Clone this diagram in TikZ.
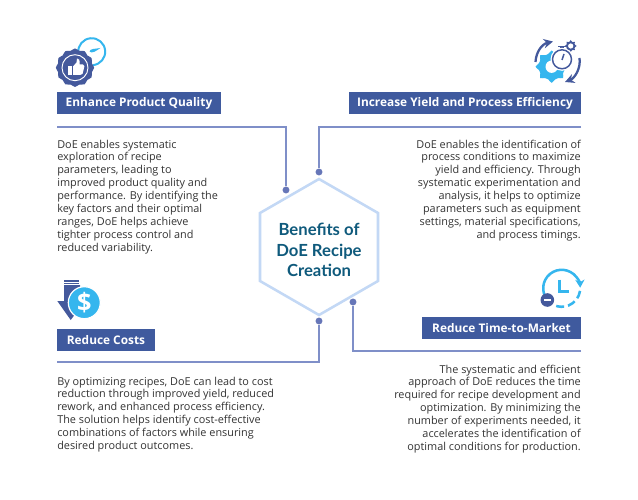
\documentclass[tikz,border=0pt]{standalone}
\usepackage{fontspec}
\setmainfont{Open Sans}
\newfontfamily\titlefont{Lato}
\usetikzlibrary{arrows.meta}
\definecolor{bar}{HTML}{3F5A9E}
\definecolor{navy}{HTML}{44599C}
\definecolor{sky}{HTML}{35B6EE}
\definecolor{wire}{HTML}{7F8FC8}
\definecolor{dotc}{HTML}{6676B8}
\definecolor{hexc}{HTML}{C3D8F5}
\definecolor{ttl}{HTML}{0F5A7C}
\definecolor{body}{HTML}{333333}
\tikzset{
  barbox/.style={fill=bar,text=white,font=\fontsize{8.9pt}{11pt}\selectfont\bfseries,inner sep=0pt,anchor=center},
  bodyl/.style={align=left,anchor=north west,text=body,inner sep=0pt,font=\fontsize{8.15pt}{9.68pt}\selectfont},
  bodyr/.style={align=right,anchor=north east,text=body,inner sep=0pt,font=\fontsize{8.15pt}{9.68pt}\selectfont},
  wireline/.style={draw=wire,line width=1.1pt},
  dotn/.style={circle,fill=dotc,minimum size=5.2pt,inner sep=0pt},
}
\begin{document}
\begin{tikzpicture}[x=0.75pt,y=-0.75pt]
\useasboundingbox (0,0) rectangle (638,499);
\fill[white] (0,0) rectangle (638,499);
% hexagon
\node[draw=none,inner sep=0pt,align=center,text=ttl,font=\titlefont\fontsize{12.5pt}{15.4pt}\selectfont\bfseries] (title) at (319,250) {Benefits of\\DoE Recipe\\Creation};
\draw[hexc,line width=1.9pt] (319,179) -- (378,213) -- (378,281) -- (319,315) -- (260,281) -- (260,213) -- cycle;
% connector ends
\node[dotn] (d1) at (286,190) {};
\node[dotn] (d2) at (319,172) {};
\node[dotn] (d3) at (353,302) {};
\node[dotn] (d4) at (319,321) {};
\coordinate (e1) at (57,127);
\coordinate (e2) at (581,127);
\coordinate (e3) at (581,351);
\coordinate (e4) at (57,362);
\draw[wireline] (e1) -| (d1);
\draw[wireline] (e2) -| (d2);
\draw[wireline] (e3) -| (d3);
\draw[wireline] (e4) -| (d4);
% bars
\node[barbox,minimum width=123pt,minimum height=16.5pt] (b1) at (139,103) {Enhance Product Quality};
\node[barbox,minimum width=174pt,minimum height=16.5pt] (b2) at (465,103) {Increase Yield and Process Efficiency};
\node[barbox,minimum width=73.5pt,minimum height=16.5pt] (b3) at (106,340) {Reduce Costs};
\node[barbox,minimum width=119pt,minimum height=16.5pt] (b4) at (501.5,328) {Reduce Time-to-Market};
% text
\node[bodyl] (t1) at (57,139.5) {DoE enables systematic\\exploration of recipe\\parameters, leading to\\improved product quality and\\performance. By identifying the\\key factors and their optimal\\ranges, DoE helps achieve\\tighter process control and\\reduced variability.};
\node[bodyr] (t2) at (581,139.5) {DoE enables the identification of\\process conditions to maximize\\yield and efficiency. Through\\systematic experimentation and\\analysis, it helps to optimize\\parameters such as equipment\\settings, material specifications,\\and process timings.};
\node[bodyl] (t3) at (57,376.5) {By optimizing recipes, DoE can lead to cost\\reduction through improved yield, reduced\\rework, and enhanced process efficiency.\\The solution helps identify cost-effective\\combinations of factors while ensuring\\desired product outcomes.};
\node[bodyr] (t4) at (581,364.5) {The systematic and efficient\\approach of DoE reduces the time\\required for recipe development and\\optimization. By minimizing the\\number of experiments needed, it\\accelerates the identification of\\optimal conditions for production.};
% icon 1: gauge and badge
\draw[sky,line width=1.5pt] (91.7,51.7) ++(175:13.5) arc[start angle=175,end angle=445,radius=13.5];
\fill[sky] (89.5,51.5) .. controls (90,48.5) and (95,49) .. (100.5,48) .. controls (96,51) and (92,54) .. cycle;
\fill[navy] plot[smooth cycle,domain=0:345,samples=24,shift={(75,67.7)}] (\x:{18.3+0.9*cos(12*\x)});
\draw[white,line width=0.7pt] (75,67.7) circle[radius=13];
\fill[white] (68.3,66.5) rectangle (72.3,75);
\fill[white] (73,66.5) -- (76.5,62.5) -- (77,58.5) .. controls (79,58) and (80,60) .. (79.5,64.5) -- (83,64.5) .. controls (85,65) and (84.5,67) .. (84,68) -- (82.5,74) .. controls (82,75) and (81,75) .. (80,75) -- (73,75) -- cycle;
% icon 2: gears, stopwatch, arrows
\fill[sky] plot[smooth cycle,domain=0:345,samples=24,shift={(551.7,66.7)},tension=0.3] (\x:{14.2+2*cos(8*\x)});
\fill[white] (551.7,66.7) circle[radius=6.2];
\fill[navy] plot[smooth cycle,domain=0:345,samples=24,shift={(570.7,46)},tension=0.3] (\x:{5+1*cos(8*\x)});
\fill[white] (570.7,46) circle[radius=2.6];
\fill[navy] (560,47) rectangle (564,50);
\fill[navy] (558,46) rectangle (566,47.5);
\fill[white] (562,59.3) circle[radius=11.5];
\draw[navy,line width=1.1pt,fill=white] (562,59.3) circle[radius=9.5];
\draw[navy,line width=1.1pt] (562,60) -- (564,54);
\draw[navy,line width=1.7pt,-{Stealth[length=7pt,width=7pt]}] (535.5,62) .. controls (536,52) and (542,44) .. (553,41.5);
\draw[navy,line width=1.7pt,-{Stealth[length=7pt,width=7pt]}] (579.5,58) .. controls (581,68) and (575,78) .. (565,82);
% icon 3: arrow and coin
\fill[navy] (64,280) rectangle (79,281.5);
\fill[navy] (64,282.5) rectangle (79,284);
\fill[navy] (64,285) -- (80,285) -- (80,301) -- (85,301) -- (70.7,320) -- (57.3,301) -- (64,301) -- cycle;
\fill[sky,draw=white,line width=0.9pt] (84.3,302.7) circle[radius=16];
\node[text=white,inner sep=0pt,font=\fontsize{19pt}{19pt}\selectfont\bfseries] (dollar) at (84.3,302.7) {\$};
% icon 4: clock
\draw[sky,line width=1.9pt,-{Stealth[length=6pt,width=7pt]}] (561.7,288.3) ++(130:18.5) arc[start angle=130,end angle=358,radius=18.5];
\draw[sky,line width=1.9pt,dash pattern=on 6pt off 3pt] (561.7,288.3) ++(8:18.5) arc[start angle=8,end angle=115,radius=18.5];
\draw[sky,line width=1.9pt] (559.5,279.5) |- (568.5,291.7);
\fill[navy] (547.3,300) circle[radius=6.8];
\fill[white] (543.6,299) rectangle (551,301.2);
\end{tikzpicture}
\end{document}
